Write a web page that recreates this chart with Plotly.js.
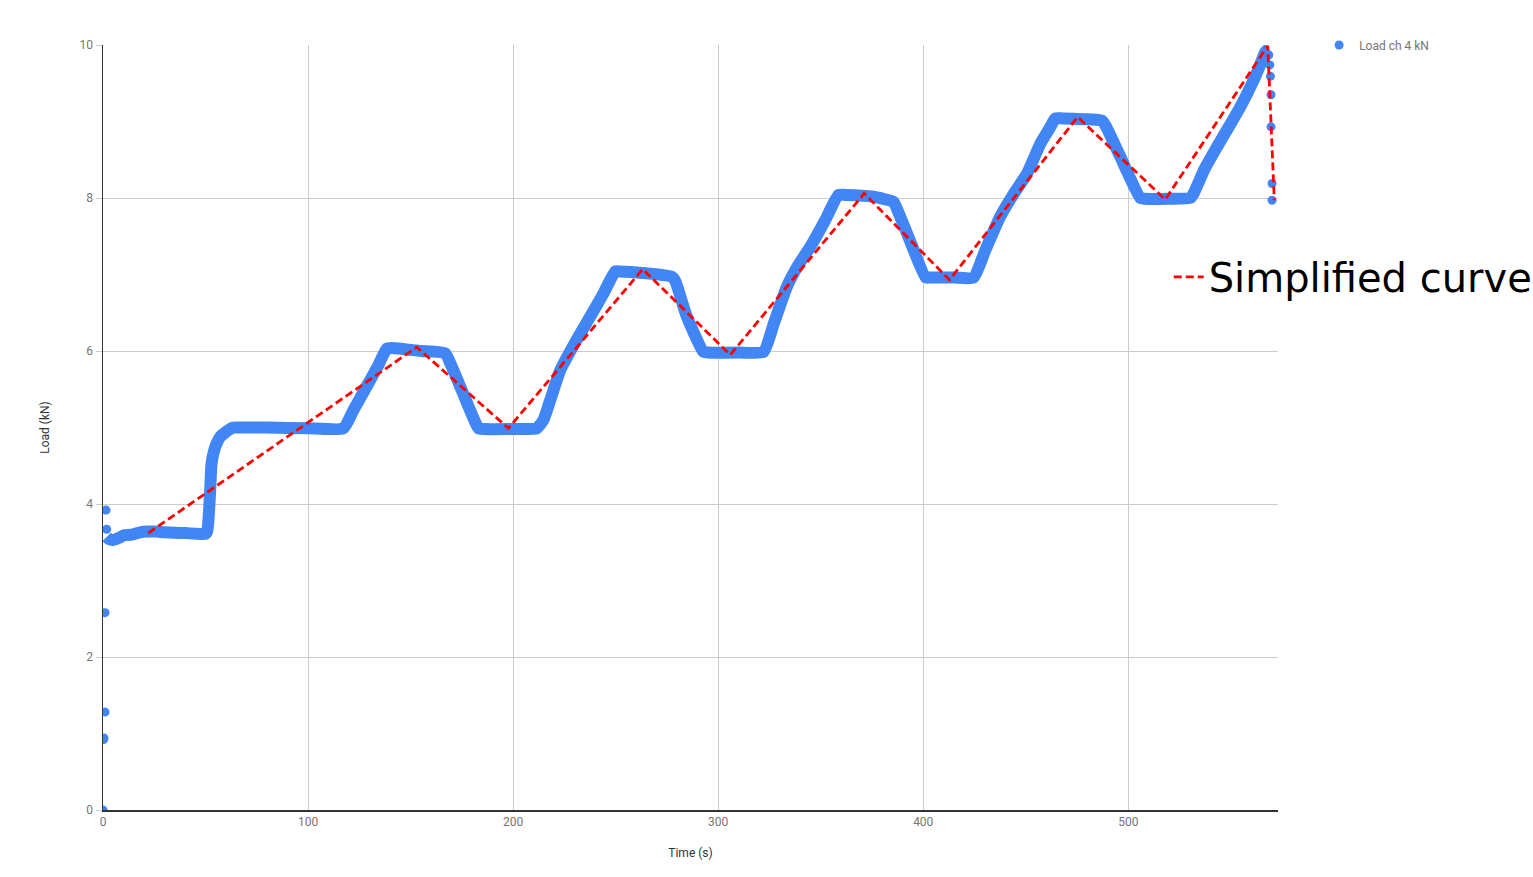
<!DOCTYPE html>
<html>
<head>
<meta charset="utf-8">
<script src="https://cdn.plot.ly/plotly-3.0.1.min.js"></script>
<style>html,body{margin:0;padding:0;background:#fff;}#chart{width:1533px;height:877px;}</style>
</head>
<body>
<div id="chart"></div>
<script>
// Dense measured load band (Time s, Load kN)
var bandTime = [1.8, 3, 5, 8, 10, 14, 18, 22, 26, 30, 40, 50, 50.8, 51.3, 51.8, 52.3, 52.9, 54, 55.4, 57.5, 59, 60.3, 63.6, 66, 80, 100, 117.2, 122, 127.8, 134, 138.4, 141, 155, 166.8, 170, 174.9, 181, 183.1, 186, 200, 211.5, 214.8, 218, 223, 230, 237.6, 244, 249.8, 252, 263, 277.4, 279, 284.7, 292.8, 295, 310, 322.1, 327, 333.5, 339, 344.9, 352, 358.7, 362, 375, 385.5, 387, 392.8, 401.2, 403, 415, 424.5, 430, 437.6, 444, 450.6, 457.1, 462, 464.4, 468, 478, 487.2, 489, 496.1, 505.9, 508, 520, 530.2, 531.9, 537, 543.3, 549, 554.6, 561.1, 564, 566.8, 568.5];
var bandLoad = [3.57, 3.54, 3.53, 3.56, 3.59, 3.6, 3.63, 3.64, 3.64, 3.63, 3.62, 3.61, 3.64, 3.75, 3.95, 4.2, 4.52, 4.68, 4.79, 4.89, 4.92, 4.95, 5.0, 5.0, 5.0, 4.99, 4.99, 5.22, 5.5, 5.8, 6.03, 6.04, 6.0, 5.97, 5.8, 5.49, 5.1, 4.99, 4.98, 4.98, 4.99, 5.1, 5.35, 5.75, 6.1, 6.45, 6.75, 7.04, 7.04, 7.02, 6.97, 6.92, 6.45, 5.99, 5.98, 5.98, 5.99, 6.35, 6.84, 7.12, 7.36, 7.7, 8.04, 8.04, 8.02, 7.95, 7.87, 7.49, 6.96, 6.96, 6.96, 6.96, 7.3, 7.76, 8.05, 8.32, 8.71, 8.93, 9.04, 9.04, 9.03, 9.01, 8.94, 8.54, 8.0, 7.99, 7.99, 8.0, 8.06, 8.37, 8.67, 8.93, 9.19, 9.54, 9.72, 9.91, 9.95];
// Isolated samples (start-up and unloading)
var sparseTime = [0, 0.3, 0.5, 1, 1, 1.5, 1.8, 568.5, 569, 569.3, 569.6, 569.6, 570.1, 570.1];
var sparseLoad = [0, 0.92, 0.94, 1.28, 2.58, 3.92, 3.67, 9.87, 9.74, 9.59, 9.35, 8.93, 8.19, 7.97];
// Simplified curve vertices
var simpTime = [22.1, 153, 197.7, 263.2, 305.9, 371.2, 412.8, 475.3, 518, 568, 571.2];
var simpLoad = [3.62, 6.05, 4.99, 7.07, 5.95, 8.06, 6.93, 9.06, 7.98, 9.99, 7.97];

var xTicks = [0, 100, 200, 300, 400, 500];
var yTicks = [0, 2, 4, 6, 8, 10];

var blue = '#4285f4';
var traces = [
  {x: bandTime, y: bandLoad, type: 'scatter', mode: 'lines', showlegend: false, legendgroup: 'load',
   line: {color: blue, width: 12, shape: 'spline', smoothing: 0.5}, hoverinfo: 'skip'},
  {x: sparseTime, y: sparseLoad, type: 'scatter', mode: 'markers', name: 'Load ch 4 kN', legendgroup: 'load',
   marker: {color: blue, size: 9}},
  {x: simpTime, y: simpLoad, type: 'scatter', mode: 'lines', name: 'Simplified curve', legend: 'legend2',
   line: {color: '#ff0000', width: 2.8, dash: '8px,4px'}}
];

var layout = {
  width: 1533, height: 877,
  margin: {l: 103, r: 255, t: 45, b: 67, autoexpand: false},
  paper_bgcolor: '#fff', plot_bgcolor: '#fff',
  font: {family: 'Roboto, Arial, sans-serif', size: 12, color: '#757575'},
  xaxis: {
    range: [0, 573], tickvals: xTicks, ticktext: xTicks.map(String),
    showgrid: true, gridcolor: '#cccccc', gridwidth: 1,
    showline: true, linecolor: '#333', linewidth: 1.5, zeroline: false,
    ticks: '', ticklen: 0, tickfont: {size: 12, color: '#757575'},
    title: {text: 'Time (s)', font: {size: 12, color: '#333'}, standoff: 20}
  },
  yaxis: {
    range: [0, 10], tickvals: yTicks, ticktext: yTicks.map(String),
    showgrid: true, gridcolor: '#cccccc', gridwidth: 1,
    showline: true, linecolor: '#333', linewidth: 1.5, zeroline: false,
    ticks: 'outside', ticklen: 6, tickcolor: '#cccccc', tickfont: {size: 12, color: '#757575'},
    title: {text: 'Load (kN)', font: {size: 12, color: '#333'}, standoff: 27}
  },
  legend: {x: 1.035, y: 1.0, xanchor: 'left', yanchor: 'middle', bgcolor: 'rgba(0,0,0,0)',
    font: {size: 12, color: '#757575'}, itemwidth: 30},
  legend2: {x: 0.907, y: 0.697, xanchor: 'left', yanchor: 'middle', bgcolor: 'rgba(0,0,0,0)',
    font: {family: 'DejaVu Sans, sans-serif', size: 40, color: '#000'}, itemwidth: 30}
};

Plotly.newPlot('chart', traces, layout, {displayModeBar: false, staticPlot: true});
</script>
</body>
</html>
